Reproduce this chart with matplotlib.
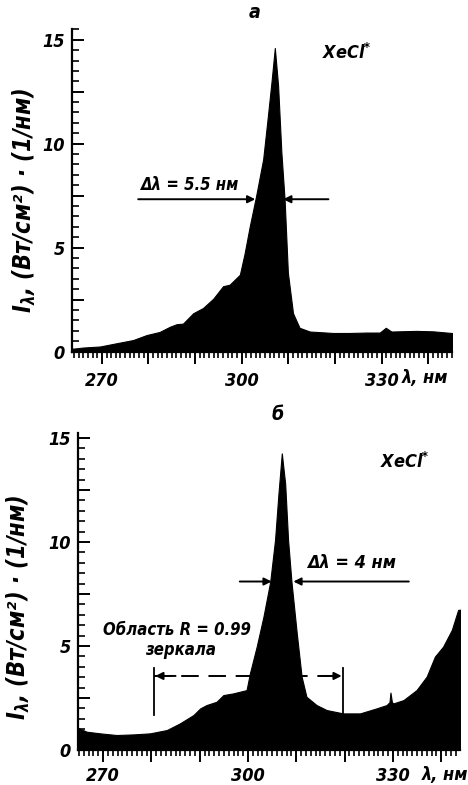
import matplotlib
matplotlib.use("Agg")
import matplotlib.pyplot as plt
from matplotlib.ticker import MultipleLocator, FuncFormatter

# ---------------- data ----------------
# panel a
wl_a = [263.6, 264.0, 266.0, 269.6, 273.0, 276.7, 279.6, 282.4, 284.6, 286.0, 287.4,
        289.6, 291.7, 293.9, 296.0, 297.4, 299.6, 300.6, 301.7, 303.1, 304.6,
        305.6, 306.4, 307.1, 307.8, 308.5, 309.2, 309.9, 311.0, 312.4, 314.6,
        319.6, 323.1, 326.7, 329.6, 330.9, 332.1, 337.4, 341.0, 345.0, 345.1]
I_a = [0.15, 0.15, 0.2, 0.25, 0.4, 0.56, 0.8, 0.95, 1.2, 1.32, 1.35,
       1.85, 2.1, 2.55, 3.15, 3.22, 3.7, 4.7, 6.0, 7.5, 9.25,
       11.3, 13.0, 14.6, 12.8, 9.6, 7.3, 3.8, 1.85, 1.15, 0.97,
       0.9, 0.9, 0.92, 0.92, 1.15, 0.97, 1.0, 0.98, 0.9, 0.9]

# panel b
wl_b = [264.8, 265.0, 266.6, 269.4, 272.8, 276.3, 279.7, 283.2, 285.9, 288.7, 290.1,
        291.4, 293.5, 294.9, 296.9, 299.7, 300.4, 301.8, 303.2, 304.6, 305.6,
        306.3, 307.0, 307.7, 308.3, 309.0, 310.1, 311.1, 312.1, 314.2, 316.3,
        319.7, 323.2, 326.6, 328.7, 329.3, 329.5, 329.8, 330.1, 332.2, 334.9,
        337.0, 338.7, 340.4, 342.2, 343.5, 343.9]
I_b = [1.05, 1.04, 0.88, 0.8, 0.72, 0.75, 0.8, 0.96, 1.28, 1.68, 2.0,
       2.16, 2.32, 2.64, 2.72, 2.88, 3.69, 4.97, 6.41, 8.09, 10.1,
       12.3, 14.26, 12.8, 10.1, 8.09, 5.61, 3.53, 2.56, 2.16, 1.92,
       1.76, 1.76, 2.0, 2.16, 2.3, 2.76, 2.3, 2.24, 2.4, 2.88,
       3.53, 4.49, 4.97, 5.77, 6.73, 6.75]

# annotations (data values)
fwhm_a = (302.9, 308.9)     # FWHM arrow heads, panel a
fwhm_a_y = 7.33
fwhm_b = (304.9, 309.4)
fwhm_b_y = 8.1
mirror_range = (280.5, 319.7)   # R=0.99 mirror region
mirror_y = 3.56

x_major_labels = [270, 300, 330]

plt.rcParams['font.family'] = 'DejaVu Sans'
plt.rcParams['font.style'] = 'italic'
plt.rcParams['font.weight'] = 'bold'
plt.rcParams['font.stretch'] = 'condensed'
plt.rcParams['mathtext.fontset'] = 'dejavusans'
plt.rcParams['axes.labelweight'] = 'bold'

fig = plt.figure(figsize=(4.68, 7.85), dpi=100)

ax_a = fig.add_axes([72/468, 1-351.7/785, (452-72)/468, (351.7-29.3)/785])
ax_b = fig.add_axes([78/468, 1-750/785, (460-78)/468, (750-433)/785])

YLABEL = r"$\mathbf{I_{\lambda}}$, (Вт/см²) · (1/нм)"


def style(ax, xlim, ylim, xpad):
    ax.set_xlim(*xlim)
    ax.set_ylim(*ylim)
    for s in ['top', 'right']:
        ax.spines[s].set_visible(False)
    for s in ['left', 'bottom']:
        ax.spines[s].set_linewidth(1.6)
    ax.xaxis.set_major_locator(MultipleLocator(10))
    ax.xaxis.set_minor_locator(MultipleLocator(1))
    ax.yaxis.set_major_locator(MultipleLocator(2.5))
    ax.yaxis.set_minor_locator(MultipleLocator(0.5))
    ax.xaxis.set_major_formatter(FuncFormatter(
        lambda v, p: f"{int(round(v))}" if int(round(v)) in x_major_labels else ""))
    ax.yaxis.set_major_formatter(FuncFormatter(
        lambda v, p: f"{int(round(v))}" if abs(v/5 - round(v/5)) < 1e-6 else ""))
    ax.tick_params(axis='x', which='major', direction='out', length=8.5, width=1.4,
                   pad=xpad, labelsize=13)
    ax.tick_params(axis='x', which='minor', direction='out', length=4.5, width=1.2)
    ax.tick_params(axis='y', which='major', direction='in', length=8.5, width=1.4,
                   pad=5, labelsize=13)
    ax.tick_params(axis='y', which='minor', direction='in', length=5, width=1.2)
    ax.set_ylabel(YLABEL, fontsize=17, fontweight='bold')


def fwhm_arrows(ax, left, right, y, ltail, rtail):
    ap = dict(arrowstyle='-|>', color='black', lw=1.4, mutation_scale=11,
              shrinkA=0, shrinkB=0)
    ax.annotate("", xy=(left, y), xytext=(ltail, y), arrowprops=ap)
    ax.annotate("", xy=(right, y), xytext=(rtail, y), arrowprops=ap)


# ---- panel a ----
ax_a.fill_between(wl_a, 0, I_a, color='black', lw=0.8, edgecolor='black')
style(ax_a, (263.6, 345.1), (0, 15.5), 6)
ax_a.yaxis.set_label_coords(-0.09, 0.47)
fwhm_arrows(ax_a, fwhm_a[0], fwhm_a[1], fwhm_a_y, 277.8, 318.6)
ax_a.text(278.4, 8.0, "Δλ = 5.5 нм", fontsize=12, va='center', ha='left')
ax_a.text(317.2, 14.35, "XeCl$^{*}$", fontsize=13, va='center', ha='left')
ax_a.annotate("λ, нм", xy=(0.868, 0), xycoords='axes fraction',
              xytext=(0, -19), textcoords='offset points', ha='left', va='center',
              fontsize=13)
fig.text(255/468, 1-12/785, "а", fontsize=14, ha='center', va='center')

# ---- panel b ----
ax_b.fill_between(wl_b, 0, I_b, color='black', lw=0.8, edgecolor='black')
style(ax_b, (264.8, 343.9), (0, 15.24), 4)
ax_b.yaxis.set_label_coords(-0.12, 0.45)
fwhm_arrows(ax_b, fwhm_b[0], fwhm_b[1], fwhm_b_y, 298.3, 333.3)
ax_b.text(312.2, 9.0, "Δλ = 4 нм", fontsize=13, va='center', ha='left')
ax_b.text(327.3, 13.85, "XeCl$^{*}$", fontsize=13, va='center', ha='left')
ax_b.annotate("λ, нм", xy=(0.90, 0), xycoords='axes fraction',
              xytext=(0, -18), textcoords='offset points', ha='left', va='center',
              fontsize=13)
fig.text(278/468, 1-415/785, "б", fontsize=14, ha='center', va='center')

# mirror region bracket
for xv in mirror_range:
    ax_b.plot([xv, xv], [1.68, 3.94], color='black', lw=1.3)
ax_b.plot(mirror_range, [mirror_y, mirror_y], color='black', lw=1.4,
          dashes=(9, 5))
apd = dict(arrowstyle='-|>', color='black', lw=1.4, mutation_scale=11,
           shrinkA=0, shrinkB=0)
ax_b.annotate("", xy=(mirror_range[0] + 0.3, mirror_y),
              xytext=(mirror_range[0] + 4.5, mirror_y), arrowprops=apd)
ax_b.annotate("", xy=(mirror_range[1] - 0.3, mirror_y),
              xytext=(mirror_range[1] - 4.5, mirror_y), arrowprops=apd)
ax_b.text(270.0, 5.77, "Область R = 0.99", fontsize=12, va='center', ha='left')
ax_b.text(286.1, 4.8, "зеркала", fontsize=12, va='center', ha='center')

fig.savefig("out.png", dpi=100)
